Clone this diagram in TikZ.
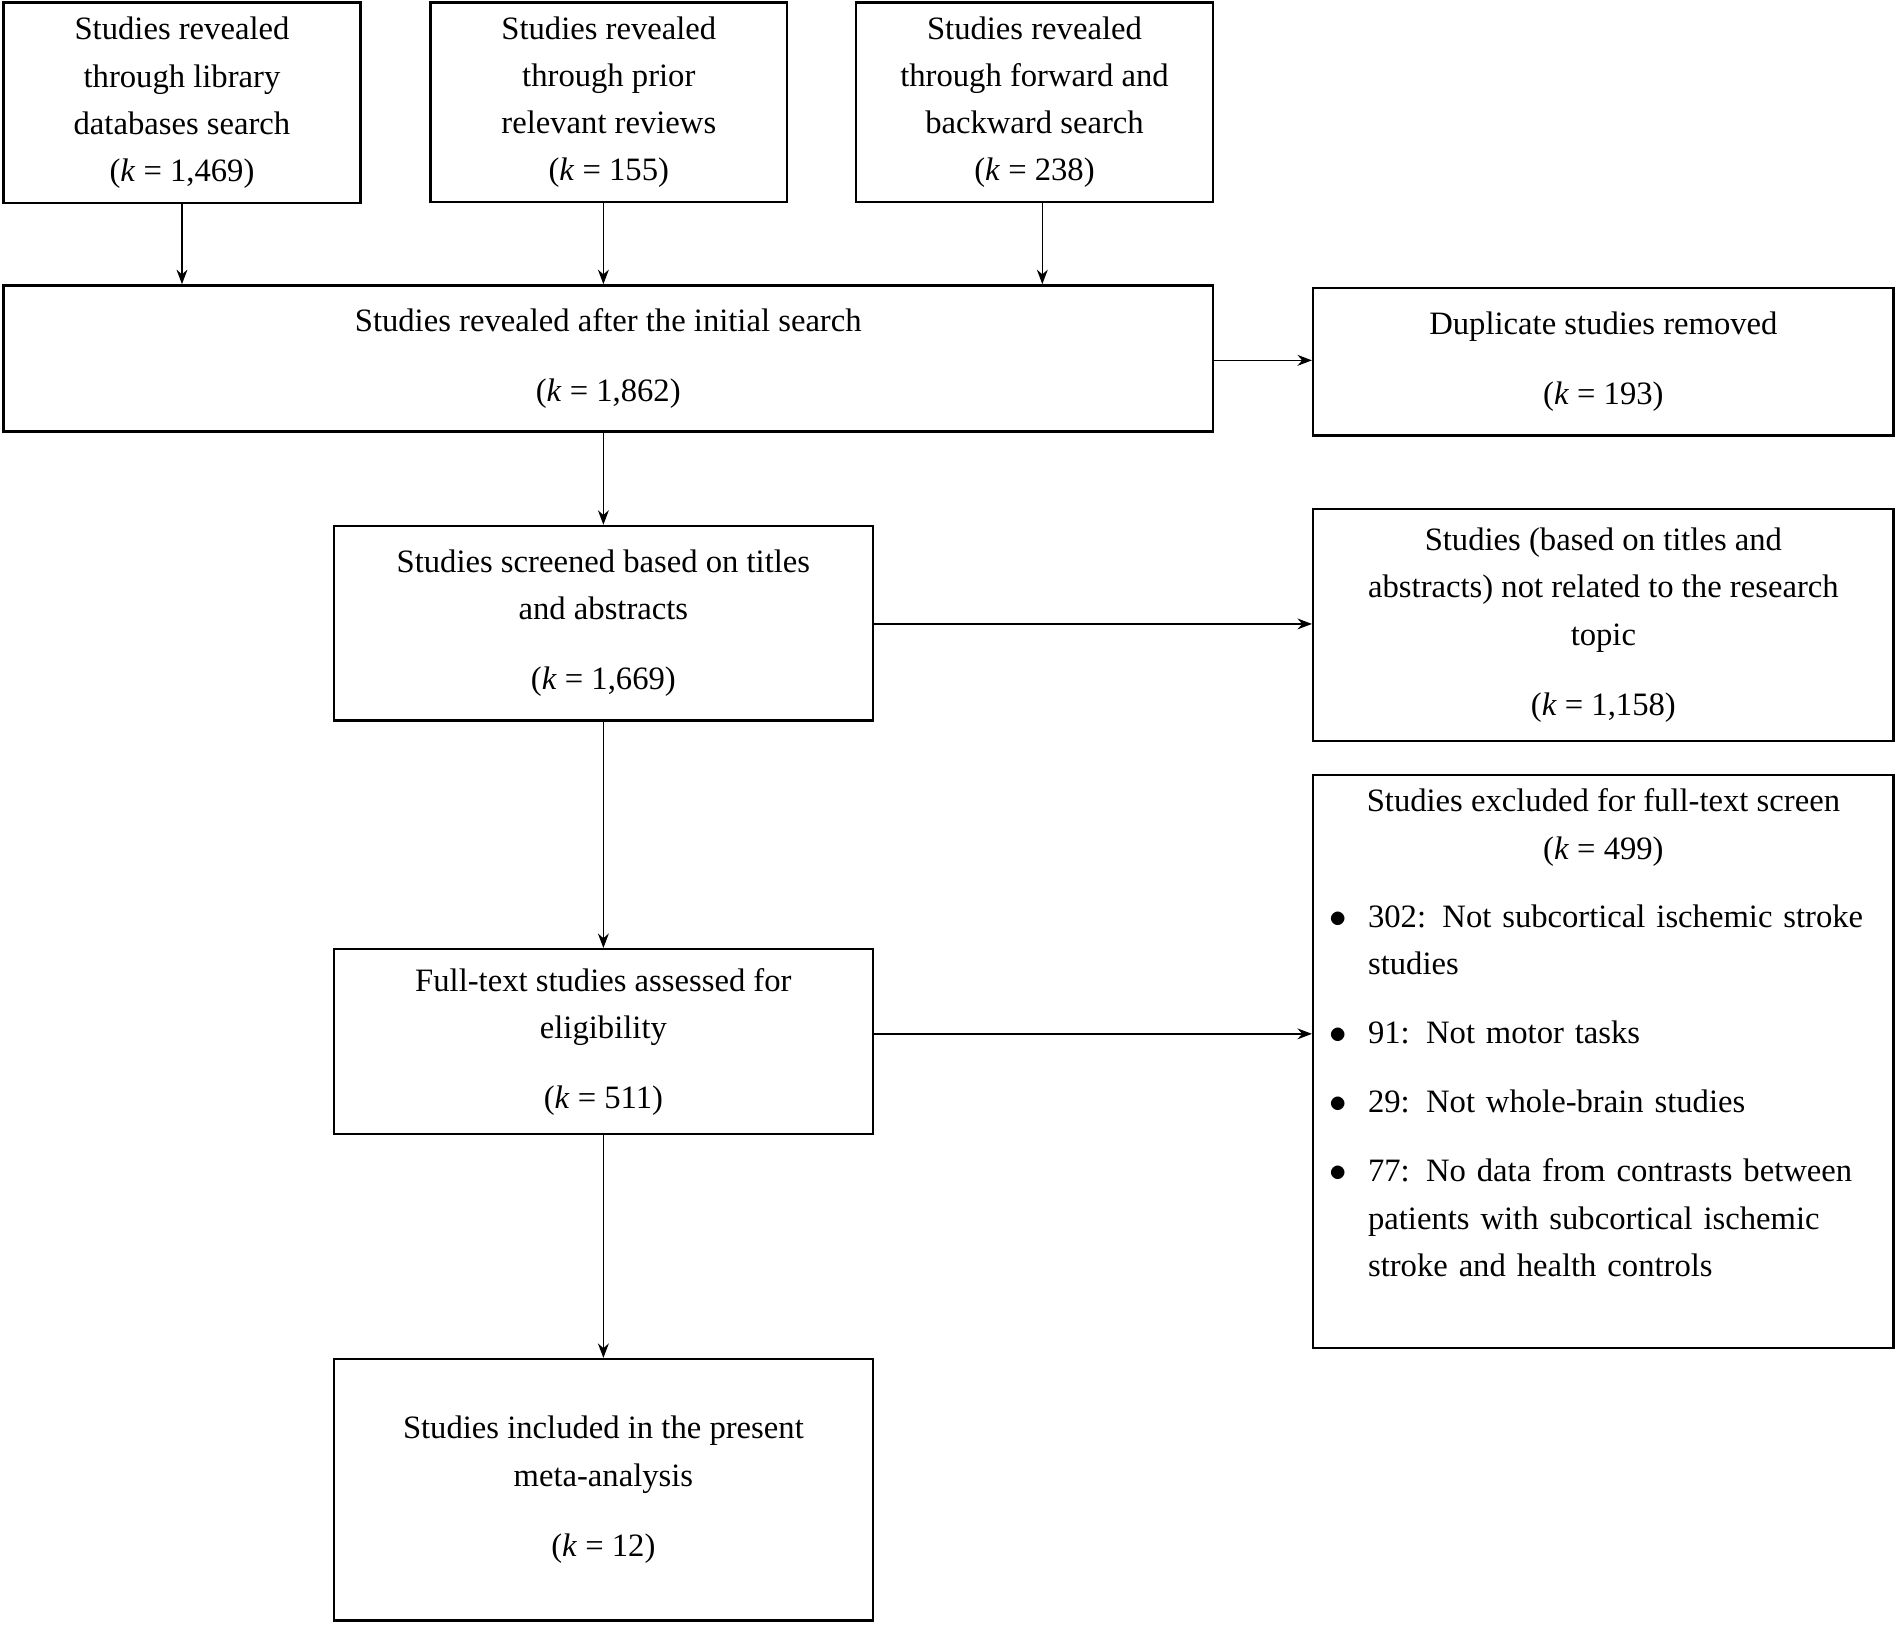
\documentclass[tikz,border=0pt]{standalone}
\usepackage{fontspec}
\setmainfont{Liberation Serif}
\usetikzlibrary{arrows.meta}
\begin{document}
\fontsize{13.5pt}{19.5pt}\selectfont
\begin{tikzpicture}[x=0.5pt,y=-0.5pt,
 box/.style={draw,line width=1pt,inner sep=0pt,align=center,font=\fontsize{13.5pt}{19.5pt}\selectfont},
 txt/.style={inner sep=0pt,align=left,text width=207pt,anchor=north west,font=\fontsize{13.5pt}{19.5pt}\selectfont},
 arr/.style={-{Stealth[length=6pt,width=4.5pt]},line width=0.6pt}]
\useasboundingbox (0,0) rectangle (1568,1344);
\newcommand{\bx}[6]{\node[box,minimum width={(#4-#2)*0.5pt},minimum height={(#5-#3)*0.5pt}] (#1) at ({(#2+#4)/2},{(#3+#5)/2}) {#6};}
\bx{b1}{3}{2}{298}{168}{Studies revealed\\through library\\databases search\\(\textit{k} = 1,469)}
\bx{b2}{356}{2}{651}{167}{Studies revealed\\through prior\\relevant reviews\\(\textit{k} = 155)}
\bx{b3}{708}{2}{1003}{167}{Studies revealed\\through forward and\\backward search\\(\textit{k} = 238)}
\bx{b4}{3}{236}{1003}{357}{Studies revealed after the initial search\\[9.5pt](\textit{k} = 1,862)}
\bx{b5}{1086}{238}{1566}{360}{Duplicate studies removed\\[9.5pt](\textit{k} = 193)}
\bx{b6}{276}{435}{722}{596}{Studies screened based on titles\\and abstracts\\[9.5pt](\textit{k} = 1,669)}
\bx{b7}{1086}{421}{1566}{613}{Studies (based on titles and\\abstracts) not related to the research\\topic\\[9.5pt](\textit{k} = 1,158)}
\bx{b8}{276}{785}{722}{938}{Full-text studies assessed for\\eligibility\\[9.5pt](\textit{k} = 511)}
\bx{b9}{1086}{641}{1566}{1115}{}
\bx{b10}{276}{1124}{722}{1340}{Studies included in the present\\meta-analysis\\[9.5pt](\textit{k} = 12)}
\node[inner sep=0pt,align=center,anchor=north,font=\fontsize{13.5pt}{19.5pt}\selectfont] (h9) at (1326,652) {Studies excluded for full-text screen\\(\textit{k} = 499)};
\node[txt] (i1) at (1131,748) {302: Not subcortical ischemic stroke studies};
\node[txt] (i2) at (1131,844) {91: Not motor tasks};
\node[txt] (i3) at (1131,901) {29: Not whole-brain studies};
\node[txt] (i4) at (1131,958) {77: No data from contrasts between patients with subcortical ischemic stroke and health controls};
\foreach \n in {i1,i2,i3,i4}{\node[anchor=base,inner sep=0pt] at (1107,0 |- \n.base) {$\bullet$};}
\draw[arr] (b1.south) -- (b1.south |- b4.north);
\draw[arr] (b2.south -| 499,0) -- (499,0 |- b4.north);
\draw[arr] (862,0 |- b3.south) -- (862,0 |- b4.north);
\draw[arr] (b4.east |- 0,298) -- (b5.west |- 0,298);
\draw[arr] (b4.south -| b6.north) -- (b6.north);
\draw[arr] (b6.east |- 0,516) -- (b7.west |- 0,516);
\draw[arr] (b6.south) -- (b8.north);
\draw[arr] (b8.east |- 0,855) -- (b9.west |- 0,855);
\draw[arr] (b8.south) -- (b10.north);
\end{tikzpicture}
\end{document}
